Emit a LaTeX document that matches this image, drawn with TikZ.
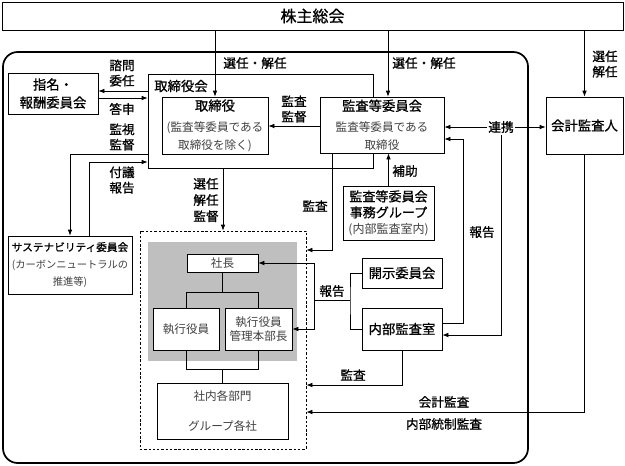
\documentclass[tikz,border=0pt]{standalone}
\usepackage{fontspec}
\setmainfont{Noto Sans CJK JP}
\newfontfamily\gothm[FakeBold=0.9]{Noto Sans CJK JP}
\usetikzlibrary{arrows.meta}
\usepackage{xcolor}

\newcommand\ttlfont{\gothm\fontsize{10}{13.5}\selectfont}
\newcommand\mchfont{\normalfont\fontsize{8.7}{10.5}\selectfont\color{black!75}}

\begin{document}
\begin{tikzpicture}[
x=0.75pt, y=-0.75pt,
line width=0.6pt,
box/.style={draw, rectangle, fill=white,
inner sep=0pt,
align=center, font=\ttlfont},
lbl/.style={align=center, inner sep=1pt,
font=\gothm\fontsize{9.5}{11.5}\selectfont},
arrow/.style={-{Latex[length=4.5pt, width=3.5pt]}}
]

\useasboundingbox (0,0) rectangle (625,465);

% outer frame
\draw[line width=1.3pt, rounded corners=11pt] (3,52) rectangle (528,463);

\node[box, minimum width=465.75pt, minimum height=21pt, font=\gothm\fontsize{12}{14}\selectfont] (kabu) at (312.5,16) {株主総会};

\node[box, minimum width=168.75pt, minimum height=70.5pt] (torikai) at (260.5,121) {};
\node[lbl, font=\ttlfont] (torikaiLbl) at (181,86) {取締役会};
\node[box, minimum width=79.5pt, minimum height=42.75pt] (torishimari) at (215,125.5) {取締役\\[2pt]\mchfont (監査等委員である\\\mchfont 取締役を除く)};
\node[box, minimum width=93pt, minimum height=42pt] (kansa) at (382,125) {監査等委員会\\[2pt]\mchfont 監査等委員である\\\mchfont 取締役};
\node[box, minimum width=57.75pt, minimum height=42.75pt] (kaikei) at (584.5,125.5) {会計監査人};
\node[box, minimum width=67.5pt, minimum height=30.75pt] (shimei) at (53,93.5) {指名・\\報酬委員会};
\node[box, minimum width=68.25pt, minimum height=40.5pt, font=\gothm\fontsize{9.8}{12}\selectfont] (jimu) at (388.5,213) {監査等委員会\\事務グループ\\\normalfont\fontsize{9}{11}\selectfont\color{black!75}(内部監査室内)};
\node[box, minimum width=93pt, minimum height=43.5pt, font=\gothm\fontsize{8}{13}\selectfont] (sustain) at (70,265) {サステナビリティ委員会\\\normalfont\fontsize{7.7}{10.5}\selectfont\color{black!75}(カーボンニュートラルの\\\normalfont\fontsize{7.7}{10.5}\selectfont\color{black!75}推進等)};

% executive group
\node[draw, dash pattern=on 1.8pt off 1.4pt, minimum width=124.5pt, minimum height=163.5pt, inner sep=0pt] (group) at (223,340) {};
\node[fill=black!25, minimum width=111.75pt, minimum height=89.25pt, inner sep=0pt] (exec) at (222.5,301.5) {};
\node[box, minimum width=53.25pt, minimum height=13.5pt, font=\mchfont] (shacho) at (222.5,263) {社長};
\node[box, minimum width=49.5pt, minimum height=31.5pt, font=\mchfont] (shikko) at (186,329) {執行役員};
\node[box, minimum width=50.25pt, minimum height=31.5pt, font=\mchfont] (kanri) at (258.5,329) {執行役員\\管理本部長};
\node[box, minimum width=98.25pt, minimum height=42pt, font=\mchfont] (shanai) at (222.5,411) {社内各部門\\[12pt]グループ各社};

\node[box, minimum width=60pt, minimum height=22.5pt] (kaiji) at (402,273) {開示委員会};
\node[box, minimum width=60pt, minimum height=31.5pt] (naibu) at (402,329) {内部監査室};

% labels
\node[lbl] (senA) at (255,63) {選任・解任};
\node[lbl] (senB) at (424,63) {選任・解任};
\node[lbl] (senC) at (605,64) {選任\\解任};
\node[lbl] (shimon) at (122,73) {諮問\\委任};
\node[lbl] (toshin) at (122,109) {答申};
\node[lbl] (kanshi) at (122,137) {監視\\監督};
\node[lbl] (fugi) at (122,180) {付議\\報告};
\node[lbl] (kantoku) at (294,109) {監査\\監督};
\node[lbl, font=\gothm\fontsize{9.5}{12.2}\selectfont] (sennin) at (206,200) {選任\\解任\\監督};
\node[lbl] (renkei) at (501,127) {連携};
\node[lbl] (hojo) at (405,171) {補助};
\node[lbl] (kansaA) at (315,206) {監査};
\node[lbl] (hokokuA) at (482,232) {報告};
\node[lbl] (hokokuB) at (332,291) {報告};
\node[lbl] (kansaB) at (353,375) {監査};
\node[lbl] (kaikeiK) at (444,402) {会計監査};
\node[lbl] (naibuT) at (444,424) {内部統制監査};

% from shareholders
\draw[arrow] (torishimari.north |- kabu.south) -- (torishimari.north);
\draw[arrow] (388,0 |- kabu.south) -- (388,0 |- kansa.north);
\draw[arrow] (kaikei.north |- kabu.south) -- (kaikei.north);

% board and committees
\draw[arrow] (torikai.west |- 0,91) -- (shimei.east |- 0,91);
\draw[arrow] (shimei.east |- 0,98) -- (torikai.west |- 0,98);
\draw[arrow] (torikai.west |- 0,154) -| (sustain.north);
\draw[arrow] (89,0 |- sustain.north) |- (torikai.west |- 0,162);
\draw[arrow] (kansa.west |- 0,126) -- (torishimari.east |- 0,126);
\draw[arrow] (223,0 |- torikai.south) -- (223,0 |- group.north);

% audit lines
\draw[arrow] (renkei) -- (kansa.east |- renkei);
\draw[arrow] (renkei) -- (kaikei.west |- renkei);
\draw[arrow] (renkei.south) |- (naibu.east |- 0,335);
\draw[arrow] (naibu.east |- 0,323) -| (463,139) -- (kansa.east |- 0,139);
\draw[arrow] (jimu.north) -- (jimu.north |- kansa.south);
\draw[arrow] (332,0 |- kansa.south) |- (group.east |- 0,250);
\draw[arrow] (naibu.south) |- (group.east |- 0,385);
\draw[arrow] (kaikei.south) |- (group.east |- 0,412);

% reporting bracket
\coordinate (bm) at (350,300);
\coordinate (bl) at (314,300);
\draw (kaiji.west) -| (bm) |- (naibu.west);
\draw (bm) -- (bl);
\draw[arrow] (bl) |- (shacho.east);
\draw[arrow] (bl) |- (kanri.east);

% tree
\draw (shacho.south) -- (shacho.south |- 0,292);
\draw (shikko.north) |- (kanri.north |- 0,292) -- (kanri.north);
\draw (shikko.south) |- (kanri.south |- 0,369) -- (kanri.south);
\draw (shanai.north) -- (shanai.north |- 0,369);

\end{tikzpicture}
\end{document}
